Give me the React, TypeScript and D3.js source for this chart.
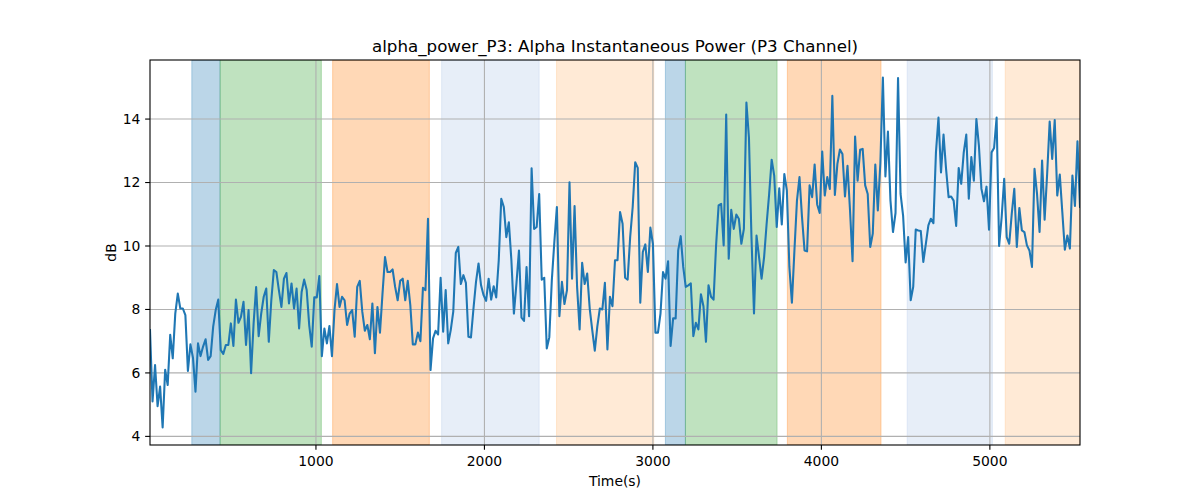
import React from 'react';
import * as d3 from 'd3';

// seconds between successive power estimates
const SAMPLE_INTERVAL = 15;

// alpha band power on P3, in dB, one value per window
const powerDb = [
  7.35, 5.1, 6.25, 4.95, 5.57, 4.28, 6.1, 5.62, 7.2, 6.46,
  7.87, 8.5, 8.03, 8.03, 7.82, 6.06, 6.9, 6.48, 5.41, 6.93,
  6.53, 6.83, 7.06, 6.41, 6.53, 7.46, 7.98, 8.31, 6.72, 6.6,
  6.88, 6.88, 7.56, 6.85, 8.31, 7.58, 7.77, 8.24, 6.88, 7.98,
  5.99, 7.56, 8.71, 7.16, 7.87, 8.4, 8.66,
  6.98, 8.29, 9.24, 9.18, 8.61, 8.08, 8.97, 9.15, 8.19, 8.82,
  8.03, 8.66, 7.4, 8.55, 8.94, 8.61, 7.51, 6.83, 8.38, 8.38,
  9.05, 6.53, 7.4, 6.93, 7.48, 6.53, 7.98, 8.8, 8.08, 8.4,
  8.29, 7.51, 7.87, 7.98, 7.14, 8.71, 8.9, 7.93, 7.33, 7.51,
  7.06, 8.19, 6.62, 8.08, 7.27, 8.5, 9.65,
  9.18, 9.18, 9.26, 8.71, 8.29, 8.9, 8.97, 8.29, 8.9, 8.14,
  6.9, 6.9, 7.27, 7.0, 8.68, 8.61, 10.86, 6.09, 7.09, 7.33,
  7.21, 9.0, 7.3, 8.61, 6.93, 7.35, 7.93, 9.78, 9.97, 8.8,
  9.08, 8.84, 7.14, 7.12, 8.03, 8.87, 9.45, 8.76, 8.45, 8.27,
  8.97, 8.31, 8.73, 8.38, 9.55,
  11.49, 11.23, 10.28, 10.75, 9.55, 7.87, 8.82, 9.86, 7.74, 7.64,
  9.34, 7.79, 12.45, 10.54, 10.6, 11.64, 8.94, 9.0, 6.77, 7.12,
  8.92, 10.13, 11.23, 7.79, 8.87, 8.17, 8.61, 12.01, 8.97, 11.26,
  8.71, 7.37, 9.47, 8.8, 9.13, 8.03, 7.35, 6.7, 7.46, 8.03,
  8.0, 8.84, 6.74, 8.4, 8.1, 9.55,
  9.55, 11.07, 10.7, 9.0, 8.94, 10.28, 11.23, 12.64, 12.46, 8.21,
  9.81, 10.05, 9.18, 10.58, 10.07, 7.27, 7.27, 7.87, 9.18, 8.97,
  9.52, 6.85, 7.72, 7.72, 9.86, 10.31, 9.34, 8.71, 8.76, 8.82,
  7.16, 7.58, 7.37, 8.48, 8.1, 6.98, 8.76, 8.4, 8.31, 10.02,
  11.28, 11.33, 10.02, 14.14, 9.6, 11.14,
  10.54, 10.99, 10.86, 10.07, 10.54, 14.52, 13.42, 10.28, 7.87, 10.33,
  9.65, 8.97, 9.65, 10.7, 11.64, 12.72, 12.22, 10.6, 11.82, 10.68,
  12.27, 11.75, 9.34, 8.21, 9.86, 11.43, 12.17, 10.91, 9.86, 9.83,
  11.91, 11.54, 12.57, 11.31, 11.04, 12.98, 11.59, 12.17, 11.8, 14.73,
  11.61, 12.59, 13.04, 12.9, 11.56, 12.53,
  11.12, 9.52, 13.45, 12.06, 13.03, 13.06, 11.91, 11.64, 9.97, 10.39,
  12.57, 11.12, 12.6, 15.31, 12.19, 13.61, 11.43, 10.44, 11.04, 15.29,
  11.64, 10.96, 9.48, 10.28, 8.29, 8.71, 10.52, 10.49, 10.47, 9.5,
  10.07, 10.65, 10.86, 10.72, 12.95, 14.05, 12.32, 13.51, 12.43, 11.54,
  11.56, 11.43, 10.63, 12.46, 11.96, 12.95,
  13.51, 11.49, 12.8, 12.06, 14.0, 13.16, 11.8, 11.41, 11.87, 10.51,
  12.95, 13.09, 14.05, 10.0, 10.91, 12.12, 10.28, 10.07, 11.02, 11.8,
  9.97, 11.2, 10.49, 10.44, 10.02, 9.86, 9.34, 12.43, 11.64, 10.44,
  12.69, 10.83, 12.27, 13.92, 12.74, 13.97, 11.59, 12.25, 11.07, 9.88,
  10.33, 9.92, 12.22, 11.26, 13.3, 11.23,
];

// shaded experiment phases (seconds)
const bandStart = [263, 431, 1099, 1746, 2428, 3074, 3193, 3798, 4509, 5091];
const bandEnd = [431, 1032, 1673, 2325, 3005, 3193, 3737, 4354, 5015, 5535];
const bandPhase = [0, 1, 2, 3, 4, 0, 1, 2, 3, 4];

const xTicks = [1000, 2000, 3000, 4000, 5000];
const yTicks = [4, 6, 8, 10, 12, 14];

const TITLE = 'alpha_power_P3: Alpha Instantaneous Power (P3 Channel)';

export default function App() {
  const width = 1200;
  const height = 500;
  const margin = { top: 60, right: 120, bottom: 55, left: 150 };
  const plotW = width - margin.left - margin.right;
  const plotH = height - margin.top - margin.bottom;

  const points = powerDb.map((v, i) => ({ t: (i + 1) * SAMPLE_INTERVAL, v }));

  const xScale = d3
    .scaleLinear()
    .domain(d3.extent(points, (d) => d.t) as [number, number])
    .range([0, plotW]);

  // matplotlib-style 5% margin on y
  const [yMin, yMax] = d3.extent(points, (d) => d.v) as [number, number];
  const pad = (yMax - yMin) * 0.05;
  const yScale = d3
    .scaleLinear()
    .domain([yMin - pad, yMax + pad])
    .range([plotH, 0]);

  const line = d3
    .line<{ t: number; v: number }>()
    .x((d) => xScale(d.t))
    .y((d) => yScale(d.v));

  const phaseColors = ['#1f77b4', '#2ca02c', '#ff7f0e', '#aec7e8', '#ffbb78'];
  const font = 'DejaVu Sans, sans-serif';
  const tickLen = 4.86;
  const thin = 1.1;

  return (
    <svg
      width={width}
      height={height}
      style={{ position: 'absolute', left: 0, top: 0, background: '#fff' }}
      fontFamily={font}
    >
      <defs>
        <clipPath id="plot-clip">
          <rect x={0} y={0} width={plotW} height={plotH} />
        </clipPath>
      </defs>
      <rect x={0} y={0} width={width} height={height} fill="#fff" />

      <g transform={`translate(${margin.left},${margin.top})`}>
        {/* phase spans */}
        <g clipPath="url(#plot-clip)">
          {bandStart.map((s, i) => {
            const c = phaseColors[bandPhase[i]];
            const x0 = xScale(s);
            const x1 = xScale(bandEnd[i]);
            return (
              <rect
                key={i}
                x={x0}
                y={0}
                width={x1 - x0}
                height={plotH}
                fill={c}
                fillOpacity={0.3}
                stroke={c}
                strokeOpacity={0.3}
                strokeWidth={1}
              />
            );
          })}
        </g>

        {/* grid */}
        {xTicks.map((t) => (
          <line
            key={`gx${t}`}
            x1={xScale(t)}
            x2={xScale(t)}
            y1={0}
            y2={plotH}
            stroke="#b0b0b0"
            strokeWidth={thin}
          />
        ))}
        {yTicks.map((t) => (
          <line
            key={`gy${t}`}
            x1={0}
            x2={plotW}
            y1={yScale(t)}
            y2={yScale(t)}
            stroke="#b0b0b0"
            strokeWidth={thin}
          />
        ))}

        {/* power trace */}
        <path
          d={line(points) || ''}
          fill="none"
          stroke="#1f77b4"
          strokeWidth={2.08}
          strokeLinejoin="round"
          strokeLinecap="square"
          clipPath="url(#plot-clip)"
        />

        {/* spines */}
        <rect x={0} y={0} width={plotW} height={plotH} fill="none" stroke="#000" strokeWidth={thin} />

        {/* x ticks */}
        {xTicks.map((t) => (
          <g key={`tx${t}`} transform={`translate(${xScale(t)},${plotH})`}>
            <line y1={0} y2={tickLen} stroke="#000" strokeWidth={thin} />
            <text y={20.5} textAnchor="middle" fontSize={13.9} fill="#000">
              {t}
            </text>
          </g>
        ))}

        {/* y ticks */}
        {yTicks.map((t) => (
          <g key={`ty${t}`} transform={`translate(0,${yScale(t)})`}>
            <line x1={0} x2={-tickLen} stroke="#000" strokeWidth={thin} />
            <text x={-9.7} dy="0.35em" textAnchor="end" fontSize={13.9} fill="#000">
              {t}
            </text>
          </g>
        ))}

        {/* axis labels */}
        <text x={plotW / 2} y={plotH + 41} textAnchor="middle" fontSize={13.9} fill="#000">
          Time(s)
        </text>
        <text
          transform={`translate(${-34},${plotH / 2}) rotate(-90)`}
          textAnchor="middle"
          fontSize={13.9}
          fill="#000"
        >
          dB
        </text>
      </g>

      <text x={margin.left + plotW / 2} y={margin.top - 8} textAnchor="middle" fontSize={16.7} fill="#000">
        {TITLE}
      </text>
    </svg>
  );
}
